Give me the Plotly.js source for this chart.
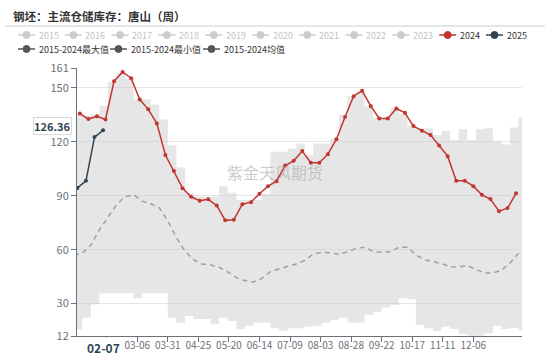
<!DOCTYPE html>
<html><head><meta charset="utf-8">
<script src="https://cdn.plot.ly/plotly-3.0.1.min.js"></script>
<style>html,body{margin:0;padding:0;background:#fff}#chart{width:550px;height:355px}</style>
</head><body><div id="chart"></div>
<script>
// ---------------- data ----------------
const titleText = '钢坯：主流仓储库存：唐山（周）';
const watermark = '紫金天风期货';
const yearNames = ['2015','2016','2017','2018','2019','2020','2021','2022','2023','2024','2025'];
const statNames = ['2015-2024最大值','2015-2024最小值','2015-2024均值'];

const tickDates = ['2024-02-10','2024-03-06','2024-03-31','2024-04-25','2024-05-20','2024-06-14','2024-07-09','2024-08-03','2024-08-28','2024-09-22','2024-10-17','2024-11-11','2024-12-06'];
const tickLabels = ['','03-06','03-31','04-25','05-20','06-14','07-09','08-03','08-28','09-22','10-17','11-11','12-06'];
const yTicks = [12,30,60,90,120,150,161];

const bandDates = ['2024-01-14','2024-01-21','2024-01-28','2024-02-04','2024-02-11','2024-02-18','2024-02-25','2024-03-03','2024-03-10','2024-03-17','2024-03-24','2024-03-31','2024-04-07','2024-04-14','2024-04-21','2024-04-28','2024-05-05','2024-05-12','2024-05-19','2024-05-26','2024-06-02','2024-06-09','2024-06-16','2024-06-23','2024-06-30','2024-07-07','2024-07-14','2024-07-21','2024-07-28','2024-08-04','2024-08-11','2024-08-18','2024-08-25','2024-09-01','2024-09-08','2024-09-15','2024-09-22','2024-09-29','2024-10-06','2024-10-13','2024-10-20','2024-10-27','2024-11-03','2024-11-10','2024-11-17','2024-11-24','2024-12-01','2024-12-08','2024-12-15','2024-12-22','2024-12-29','2025-01-05','2025-01-12','2025-01-19'];
const maxVals = [135.7,134.5,135,140,153.3,158.5,155.2,143.5,143.5,140.7,132.4,118.1,105.7,91.5,89.4,89.4,89.4,95.3,91.6,87.6,87.6,87.6,91,114.4,114.4,116.3,119,112.6,119,119,121.8,134.8,145.3,148.1,139.8,133,133,138.5,135.7,128.7,127.4,127.4,123.7,126.1,120.9,127,120.9,127,127.5,120.3,118.5,127.9,133.8,133.8];
const minVals = [15.7,22.2,29.5,35.7,35.7,35.7,35.7,32.9,35.7,35.7,35.7,22.2,19.4,23.1,21.4,21.4,18.5,22.2,20.3,15.7,17.6,19.4,19.4,16.3,14.9,16.3,16.3,17.2,17.7,19.4,20.9,22.2,19.4,19.4,23.7,25.3,27.9,29.2,33,32.4,18.1,16.3,14.8,17.2,15.9,13.1,12.2,12.2,13.5,17.6,15.9,16.6,14.9,14.9];
const meanVals = [57,58,62.6,71,78,85,89.5,90.5,87,85.5,83.3,76,66.8,59.2,54.4,52,51.5,50.2,47.6,44.5,42.8,42,44,47.8,49.3,50.7,52,54,57.6,58.4,58.3,57.4,58.8,60.7,61.4,59,58.5,58.8,61.3,61.3,57,54.4,53.2,52.3,50.5,50.3,51.2,49.2,47,47,48.5,52.5,58];

const dates2024 = ['2024-01-19','2024-01-26','2024-02-02','2024-02-09','2024-02-16','2024-02-23','2024-03-01','2024-03-08','2024-03-15','2024-03-22','2024-03-29','2024-04-05','2024-04-12','2024-04-19','2024-04-26','2024-05-03','2024-05-10','2024-05-17','2024-05-24','2024-05-31','2024-06-07','2024-06-14','2024-06-21','2024-06-28','2024-07-05','2024-07-12','2024-07-19','2024-07-26','2024-08-02','2024-08-09','2024-08-16','2024-08-23','2024-08-30','2024-09-06','2024-09-13','2024-09-20','2024-09-27','2024-10-04','2024-10-11','2024-10-18','2024-10-25','2024-11-01','2024-11-08','2024-11-15','2024-11-22','2024-11-29','2024-12-06','2024-12-13','2024-12-20','2024-12-27','2025-01-03','2025-01-10'];
const vals2024 = [135.7,132.6,134.2,132.4,153.7,158.8,155.3,143.5,138,130.2,112.6,103.7,94.2,89.4,87.2,88,84.6,76.3,76.6,85.3,86.4,91.1,95.3,98.1,106.8,109.4,114.8,108.3,108.3,113.1,121.4,133.8,145.3,148.3,139.9,132.9,132.9,138.5,136.1,128.7,126.1,123.7,117.9,112,98.3,98.3,95.3,90.5,88.1,81.4,83.1,91.3];

const dates2025 = ['2025-01-17','2025-01-24','2025-01-31','2025-02-07'];
const vals2025 = [94.3,98.3,122.6,126.36];
const pointerDate = '02-07';
const pointerValue = 126.36;

// ---------------- layout helpers ----------------
const W = 550, H = 355, L = 77, R = 522, T = 68, B = 336;
const px2x = p => (p - L) / (R - L);
const py2y = p => (B - p) / (B - T);
const toSeason = d => '2024' + d.slice(4); // 2025 plotted on the seasonal (2024) axis
const FONT = 'Noto Sans CJK SC, Noto Sans, sans-serif';
const RED = '#c23531', NAVY = '#2f4554';

const traces = [
  {x: bandDates, y: minVals, type: 'scatter', mode: 'lines', line: {width: 0, shape: 'hv'}, showlegend: false, hoverinfo: 'skip'},
  {x: bandDates, y: maxVals, type: 'scatter', mode: 'lines', line: {width: 0, shape: 'hv'}, fill: 'tonexty', fillcolor: 'rgba(200,200,200,0.45)', showlegend: false, hoverinfo: 'skip'},
  {x: bandDates.slice(0, meanVals.length), y: meanVals, type: 'scatter', mode: 'lines', line: {color: '#a0a0a0', width: 1.5, dash: '5px,4px'}, showlegend: false},
  {x: dates2024, y: vals2024, type: 'scatter', mode: 'lines+markers', line: {color: RED, width: 1.5}, marker: {color: RED, size: 4}, showlegend: false},
  {x: dates2025.map(toSeason), y: vals2025, type: 'scatter', mode: 'lines+markers', line: {color: NAVY, width: 1.5}, marker: {color: NAVY, size: 4}, showlegend: false}
];

const shapes = [
  {type: 'line', xref: 'paper', yref: 'paper', x0: px2x(5), x1: px2x(545), y0: py2y(26), y1: py2y(26), line: {color: '#cccccc', width: 1}}
];
const annotations = [
  {xref: 'paper', yref: 'paper', x: px2x(275), y: py2y(172), text: watermark, showarrow: false, font: {family: FONT, size: 16, color: 'rgba(160,160,160,0.55)'}},
  {xref: 'paper', yref: 'paper', x: px2x(72), y: py2y(126), xanchor: 'right', yanchor: 'middle', text: '<b>' + pointerValue.toFixed(2) + '</b>', showarrow: false, bgcolor: '#ffffff', bordercolor: '#d8d8d8', borderwidth: 1, borderpad: 0, font: {family: FONT, size: 11, color: NAVY}},
  {xref: 'x', yref: 'paper', x: toSeason('2025-' + pointerDate), y: py2y(347), xanchor: 'center', yanchor: 'middle', text: '<b>' + pointerDate + '</b>', showarrow: false, bgcolor: '#ffffff', font: {family: FONT, size: 12, color: NAVY}}
];

function legendItem(cx, cy, color, label, textColor) {
  shapes.push({type: 'line', xref: 'paper', yref: 'paper', x0: px2x(cx - 8.5), x1: px2x(cx + 8.5), y0: py2y(cy), y1: py2y(cy), line: {color: color, width: 1.5}});
  shapes.push({type: 'circle', xref: 'paper', yref: 'paper', x0: px2x(cx - 3.5), x1: px2x(cx + 3.5), y0: py2y(cy + 3.5), y1: py2y(cy - 3.5), fillcolor: color, line: {color: color, width: 1}});
  annotations.push({xref: 'paper', yref: 'paper', x: px2x(cx + 11), y: py2y(cy), xanchor: 'left', yanchor: 'middle', text: label, showarrow: false, borderpad: 0, font: {family: FONT, size: 9, color: textColor}});
}
yearNames.forEach((n, i) => {
  const active = n === '2024' || n === '2025';
  const c = n === '2024' ? RED : (n === '2025' ? NAVY : '#cccccc');
  legendItem(26.5 + 46.8 * i, 35, c, n, active ? '#333333' : '#c4c4c4');
});
[26.5, 118.5, 211.5].forEach((cx, i) => legendItem(cx, 49, '#555555', statNames[i], '#333333'));

const layout = {
  width: W, height: H,
  margin: {l: L, r: W - R, t: T, b: H - B, pad: 0},
  paper_bgcolor: '#ffffff', plot_bgcolor: '#ffffff',
  font: {family: FONT, size: 11, color: '#6e7079'},
  title: {text: '<b>' + titleText + '</b>', x: 13 / W, xanchor: 'left', xref: 'container', y: 1 - 17 / H, yanchor: 'middle', yref: 'container', font: {family: FONT, size: 11.5, color: '#333333'}},
  showlegend: false,
  xaxis: {type: 'date', range: ['2024-01-16 16:00', '2025-01-14 20:00'], tickmode: 'array', tickvals: tickDates, ticktext: tickLabels,
          showgrid: false, zeroline: false, showline: true, linecolor: '#6e7079', linewidth: 1, ticks: 'outside', ticklen: 5, tickcolor: '#6e7079',
          ticklabelstandoff: -5,
          tickfont: {family: FONT, size: 10, color: '#6e7079'}, fixedrange: true},
  yaxis: {range: [12, 161], tickmode: 'array', tickvals: yTicks, showgrid: true, gridcolor: '#e6e6e6', zeroline: false,
          showline: true, linecolor: '#6e7079', linewidth: 1, ticks: 'outside', ticklen: 5, tickcolor: '#6e7079',
          tickfont: {family: FONT, size: 11, color: '#6e7079'}, fixedrange: true},
  shapes: shapes, annotations: annotations
};
Plotly.newPlot('chart', traces, layout, {displayModeBar: false, staticPlot: true});
</script></body></html>
